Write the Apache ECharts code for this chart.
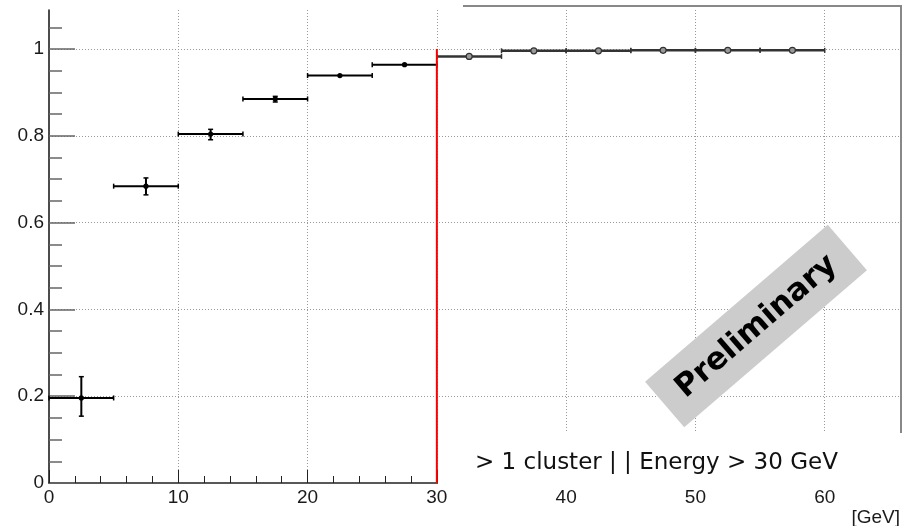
<!DOCTYPE html>
<html>
<head>
<meta charset="utf-8">
<script src="https://cdn.jsdelivr.net/npm/echarts@6/dist/echarts.min.js"></script>
<style>html,body{margin:0;padding:0;background:#fff;}#chart{width:912px;height:526px;}</style>
</head>
<body>
<div id="chart"></div>
<script>
// ---- data ----
const binLow  = [0, 5, 10, 15, 20, 25, 30, 35, 40, 45, 50, 55];
const binHigh = [5, 10, 15, 20, 25, 30, 35, 40, 45, 50, 55, 60];
const efficiency = [0.196, 0.684, 0.804, 0.885, 0.939, 0.964, 0.983, 0.996, 0.996, 0.997, 0.997, 0.997];
const errDown = [0.042, 0.020, 0.013, 0.007, 0.003, 0.002, 0.001, 0.001, 0.001, 0.001, 0.001, 0.001];
const errUp   = [0.049, 0.019, 0.011, 0.006, 0.003, 0.002, 0.001, 0.001, 0.001, 0.001, 0.001, 0.001];
const cutEnergy = 30;
const cutLine = [[cutEnergy, 0], [cutEnergy, 1]];
const yTicks = [0, 0.2, 0.4, 0.6, 0.8, 1];
const xTicks = [0, 10, 20, 30, 40, 50, 60];
const xAxisTitle = '[GeV]';
const selectionText = '> 1 cluster | | Energy > 30 GeV';
const stampText = 'Preliminary';

const rows = binLow.map((lo, i) => [lo, binHigh[i], (lo + binHigh[i]) / 2, efficiency[i], errDown[i], errUp[i]]);

const chart = echarts.init(document.getElementById('chart'));
const labelFont = {fontFamily: 'Liberation Sans, Arial, sans-serif', fontSize: 19, color: '#1a1a1a'};

chart.setOption({
  animation: false,
  backgroundColor: '#ffffff',
  grid: {left: 49, right: 11, top: 10, bottom: 43, show: false},
  xAxis: {
    type: 'value', min: 0, max: 65.9, interval: 10,
    axisLine: {show: true, lineStyle: {color: '#222', width: 1.5}},
    axisTick: {show: true, inside: true, length: 13, customValues: xTicks, lineStyle: {color: '#222', width: 1}},
    minorTick: {show: true, splitNumber: 5, length: 7, lineStyle: {color: '#222', width: 1}},
    axisLabel: Object.assign({margin: 5, customValues: xTicks}, labelFont),
    splitLine: {show: true, showMinLine: false, lineStyle: {color: '#999', type: [1, 2], width: 1}}
  },
  yAxis: {
    type: 'value', min: 0, max: 1.09, interval: 0.2,
    axisLine: {show: true, lineStyle: {color: '#111', width: 1.5}},
    axisTick: {show: true, inside: true, length: 26, customValues: yTicks, lineStyle: {color: '#666', width: 1.5}},
    minorTick: {show: true, splitNumber: 4, length: 13, lineStyle: {color: '#666', width: 1.5}},
    axisLabel: Object.assign({margin: 5, customValues: yTicks}, labelFont),
    splitLine: {show: true, showMinLine: false, lineStyle: {color: '#999', type: [1, 2], width: 1}}
  },
  series: [
    {
      type: 'custom',
      z: 3,
      data: rows,
      encode: {x: [0, 1, 2], y: 3},
      renderItem: function (params, api) {
        const lo = api.value(0), hi = api.value(1), c = api.value(2), v = api.value(3);
        const eD = api.value(4), eU = api.value(5);
        const pL = api.coord([lo, v]), pR = api.coord([hi, v]), pC = api.coord([c, v]);
        const pB = api.coord([c, v - eD]), pT = api.coord([c, v + eU]);
        const after = lo >= cutEnergy;
        const col = after ? '#333' : '#000';
        const lw = after ? 2.5 : 2;
        const st = {stroke: col, lineWidth: lw};
        const children = [
          {type: 'line', shape: {x1: pL[0], y1: pL[1], x2: pR[0], y2: pR[1]}, style: st},
          {type: 'line', shape: {x1: pL[0], y1: pL[1] - 2.5, x2: pL[0], y2: pL[1] + 2.5}, style: {stroke: col, lineWidth: 1.5}},
          {type: 'line', shape: {x1: pR[0], y1: pR[1] - 2.5, x2: pR[0], y2: pR[1] + 2.5}, style: {stroke: col, lineWidth: 1.5}}
        ];
        if (Math.abs(pB[1] - pT[1]) > 3) {
          children.push({type: 'line', shape: {x1: pC[0], y1: pB[1], x2: pC[0], y2: pT[1]}, style: {stroke: col, lineWidth: 2}});
          children.push({type: 'line', shape: {x1: pC[0] - 2.5, y1: pB[1], x2: pC[0] + 2.5, y2: pB[1]}, style: {stroke: col, lineWidth: 1.5}});
          children.push({type: 'line', shape: {x1: pC[0] - 2.5, y1: pT[1], x2: pC[0] + 2.5, y2: pT[1]}, style: {stroke: col, lineWidth: 1.5}});
        }
        if (after) {
          children.push({type: 'circle', shape: {cx: pC[0], cy: pC[1], r: 3}, style: {fill: '#999', stroke: '#333', lineWidth: 1.2}});
        } else {
          children.push({type: 'circle', shape: {cx: pC[0], cy: pC[1], r: 2.6}, style: {fill: '#000'}});
        }
        return {type: 'group', children: children};
      }
    },
    {
      type: 'line',
      z: 4,
      data: cutLine,
      showSymbol: false,
      symbol: 'none',
      lineStyle: {color: '#ff0000', width: 2},
      silent: true
    }
  ],
  graphic: [
    // partial frame (top from the right part, right edge)
    {type: 'line', z: 5, shape: {x1: 463, y1: 6, x2: 901, y2: 6}, style: {stroke: '#888', lineWidth: 2}},
    {type: 'line', z: 5, shape: {x1: 901, y1: 5, x2: 901, y2: 433}, style: {stroke: '#888', lineWidth: 2}},
    // white label box covering the lower right of the frame
    {type: 'rect', z: 20, shape: {x: 438, y: 433, width: 474, height: 53}, style: {fill: '#ffffff'}},
    {type: 'text', z: 21, x: 475, y: 463, style: {text: selectionText, fontFamily: 'DejaVu Sans, sans-serif', fontSize: 23, fill: '#111', verticalAlign: 'middle', align: 'left'}},
    {type: 'text', z: 21, x: 900, y: 518, style: {text: xAxisTitle, fontFamily: 'Liberation Sans, Arial, sans-serif', fontSize: 19, fill: '#1a1a1a', verticalAlign: 'middle', align: 'right'}},
    {
      type: 'group', z: 22, x: 756, y: 326, rotation: 40.7 * Math.PI / 180,
      children: [
        {type: 'rect', z: 22, shape: {x: -120.5, y: -30, width: 241, height: 60}, style: {fill: '#cccccc'}},
        {type: 'text', z: 23, x: 0, y: 1, style: {text: stampText, fontFamily: 'DejaVu Sans, sans-serif', fontWeight: 'bold', fontSize: 31, fill: '#000', align: 'center', verticalAlign: 'middle'}}
      ]
    }
  ]
});
</script>
</body>
</html>
